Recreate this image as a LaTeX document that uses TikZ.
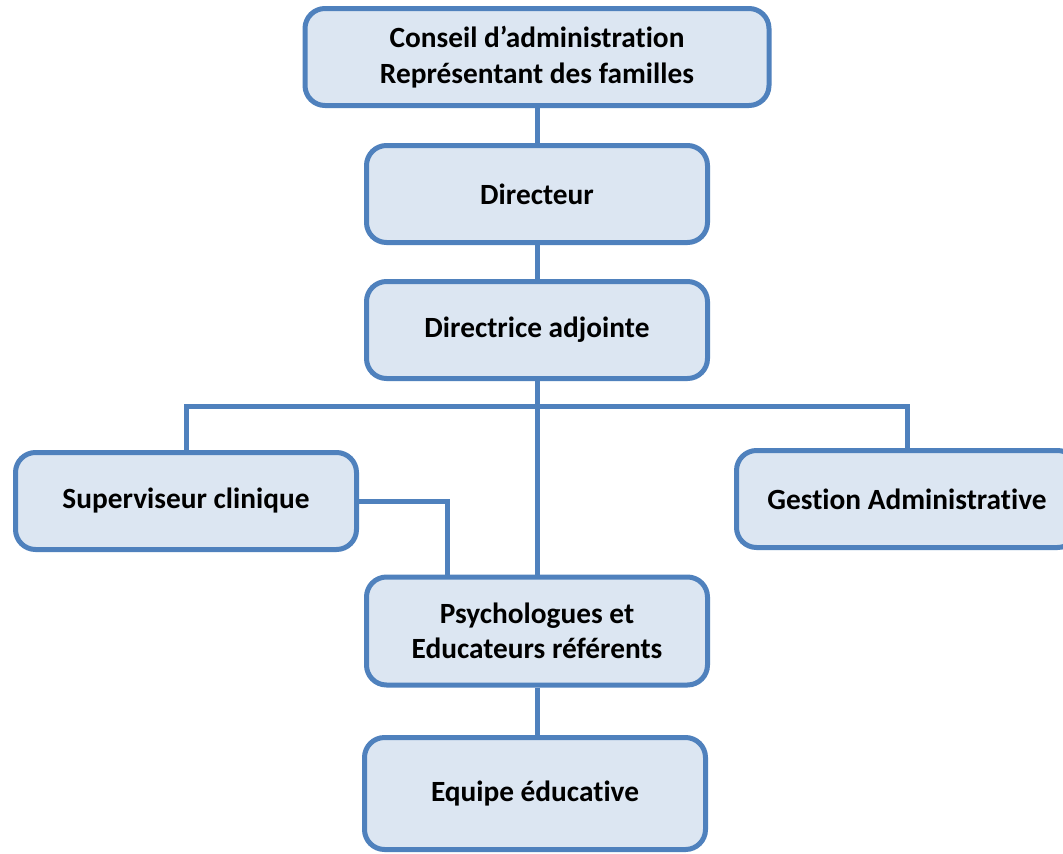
\documentclass[tikz,border=0pt]{standalone}
\usepackage{fontspec}
\setmainfont{Carlito}[Ligatures=NoCommon]
\usepackage{tikz}
\usepackage{xcolor}
\definecolor{orgblue}{HTML}{4F81BD}
\definecolor{orgfill}{HTML}{DCE6F2}
\tikzset{
  orgbox/.style={draw=orgblue, fill=orgfill, line width=3.75pt, rounded corners=15pt,
    minimum width=255.75pt, minimum height=72.75pt, align=center, inner sep=0pt,
    font=\fontsize{22}{26.5}\selectfont\bfseries},
  orgtall/.style={orgbox, minimum height=81pt},
  linkline/.style={draw=orgblue, line width=3.75pt},
}
\begin{document}
\begin{tikzpicture}[x=0.75pt,y=-0.75pt]
\clip (0,0) rectangle (1063,853);
\fill[white] (0,0) rectangle (1063,853);
% links first, boxes on top
\coordinate (bus) at (537,406);
\coordinate (relais) at (447,0);
\node[orgbox, minimum width=348pt] (conseil) at (537,57) {Conseil d'administration\\Représentant des familles};
\node[orgbox] (directeur) at (537,194) {Directeur};
\node[orgbox] (adjointe) at (537,330) {Directrice adjointe};
\node[orgbox] (clinique) at (186,501) {Superviseur clinique};
\node[orgbox] (gestion) at (907,499) {Gestion Administrative};
\node[orgtall] (psycho) at (537,631) {Psychologues et\\Educateurs référents};
\node[orgtall, minimum height=84pt] (equipe) at (535,793.5) {Equipe éducative};
\draw[linkline] (conseil) -- (directeur);
\draw[linkline] (directeur) -- (adjointe);
\draw[linkline] (adjointe) -- (psycho);
\draw[linkline] (clinique.north) |- (bus) -| (gestion.north);
\draw[linkline] (clinique.east) -| (psycho.north -| relais);
\draw[linkline] (psycho.south) -- (psycho.south |- equipe.north);
\end{tikzpicture}
\end{document}
